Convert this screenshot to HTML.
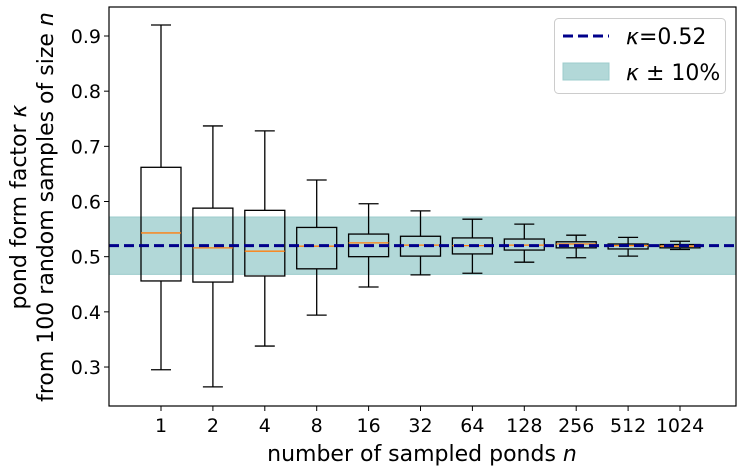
<!DOCTYPE html>
<html><head><meta charset="utf-8"><style>
body{margin:0;background:#fff;width:745px;height:471px;overflow:hidden}
svg{font-family:"DejaVu Sans","Liberation Sans",sans-serif}
</style></head><body>
<svg id="chart" width="745" height="471" xmlns="http://www.w3.org/2000/svg"></svg>
<script>
const categories=["1","2","4","8","16","32","64","128","256","512","1024"];
const whiskerHigh=[0.920,0.737,0.728,0.639,0.596,0.583,0.568,0.559,0.539,0.535,0.528];
const q3=[0.662,0.588,0.584,0.553,0.541,0.537,0.534,0.532,0.527,0.523,0.522];
const medians=[0.543,0.516,0.510,0.519,0.525,0.521,0.520,0.521,0.523,0.520,0.519];
const q1=[0.456,0.454,0.465,0.478,0.500,0.501,0.505,0.512,0.516,0.514,0.516];
const whiskerLow=[0.295,0.264,0.338,0.394,0.445,0.467,0.470,0.490,0.498,0.501,0.513];
const kappa=0.52;
const yTicks=[0.3,0.4,0.5,0.6,0.7,0.8,0.9];

const NS="http://www.w3.org/2000/svg";
const svg=document.getElementById('chart');
const L=109,R=736,T=7,B=406;
const y=v=>36+(0.9-v)*551.7;
const x=i=>161+i*51.9;
function mk(tag,attrs,parent){const e=document.createElementNS(NS,tag);for(const k in attrs)e.setAttribute(k,attrs[k]);(parent||svg).appendChild(e);return e;}

const band=mk('rect',{x:L,y:y(kappa*1.1),width:R-L,height:y(kappa*0.9)-y(kappa*1.1),fill:'#b2d8d8'});


mk('line',{x1:L,x2:R,y1:y(kappa*1.1),y2:y(kappa*1.1),stroke:'#9ccccc','stroke-width':1});
mk('line',{x1:L,x2:R,y1:y(kappa*0.9),y2:y(kappa*0.9),stroke:'#9ccccc','stroke-width':1});

categories.forEach((c,i)=>{
  const g=mk('g',{});
  
  
  const cx=x(i),hw=20,cw=10;
  const s={stroke:'#000','stroke-width':1.3,fill:'none'};
  mk('line',Object.assign({x1:cx,x2:cx,y1:y(whiskerHigh[i]),y2:y(q3[i])},s),g);
  mk('line',Object.assign({x1:cx,x2:cx,y1:y(q1[i]),y2:y(whiskerLow[i])},s),g);
  mk('line',Object.assign({x1:cx-cw,x2:cx+cw,y1:y(whiskerHigh[i]),y2:y(whiskerHigh[i])},s),g);
  mk('line',Object.assign({x1:cx-cw,x2:cx+cw,y1:y(whiskerLow[i]),y2:y(whiskerLow[i])},s),g);
  mk('rect',Object.assign({x:cx-hw,y:y(q3[i]),width:2*hw,height:y(q1[i])-y(q3[i])},s),g);
  mk('line',{x1:cx-hw,x2:cx+hw,y1:y(medians[i]),y2:y(medians[i]),stroke:'#ff7f0e','stroke-width':1.3},g);
});

const kl=mk('line',{x1:L,x2:R,y1:y(kappa),y2:y(kappa),stroke:'#00008b','stroke-width':3,'stroke-dasharray':'10,5'});



mk('rect',{x:L,y:T,width:R-L,height:B-T,fill:'none',stroke:'#000','stroke-width':1.2});

yTicks.forEach(v=>{
  mk('line',{x1:L-5,x2:L,y1:y(v),y2:y(v),stroke:'#000','stroke-width':1});
  const t=mk('text',{x:L-8,y:y(v)+7,'text-anchor':'end','font-size':19});
  t.textContent=v.toFixed(1);
  
  
});
categories.forEach((c,i)=>{
  mk('line',{x1:x(i),x2:x(i),y1:B,y2:B+5,stroke:'#000','stroke-width':1});
  const t=mk('text',{x:x(i),y:B+26,'text-anchor':'middle','font-size':19});
  t.textContent=c;
  
  
});
</script>
<svg style="position:absolute;left:0;top:0" width="745" height="471" xmlns="http://www.w3.org/2000/svg" font-family="DejaVu Sans, Liberation Sans, sans-serif">
<text x="422" y="461" text-anchor="middle" font-size="22">number of sampled ponds <tspan font-style="italic">n</tspan></text>
<text transform="translate(26,207) rotate(-90)" text-anchor="middle" font-size="22">pond form factor <tspan font-style="italic">κ</tspan></text>
<text transform="translate(53,207) rotate(-90)" text-anchor="middle" font-size="22">from 100 random samples of size <tspan font-style="italic">n</tspan></text>
<g>
<rect x="554.5" y="18.5" width="171" height="75" rx="4" fill="#fff" fill-opacity="0.8" stroke="#ccc"/>
<line x1="563" x2="609" y1="36" y2="36" stroke="#00008b" stroke-width="3" stroke-dasharray="10,5"/>
<text x="626" y="44" font-size="22"><tspan font-style="italic">κ</tspan>=0.52</text>
<rect x="563" y="63" width="46" height="17" fill="#b2d8d8" stroke="#9ccccc"/>
<text x="626" y="80" font-size="22"><tspan font-style="italic">κ</tspan> ± 10%</text>
</g>
</svg>
</body></html>
